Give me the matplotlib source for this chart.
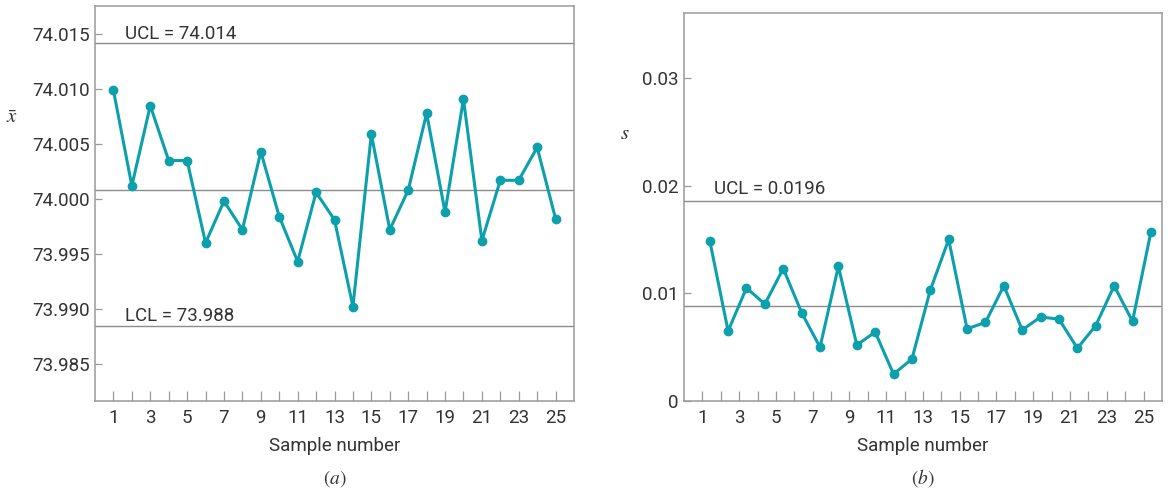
import matplotlib
matplotlib.use('Agg')
import matplotlib.pyplot as plt
import numpy as np

plt.rcParams['font.family'] = ['Roboto', 'DejaVu Sans']
plt.rcParams['mathtext.fontset'] = 'stix'

# sample numbers 1..25
samples = np.arange(1, 26)

# x-bar chart values
xbar = [74.0099, 74.0012, 74.0085, 74.0035, 74.0035, 73.9960, 73.9998, 73.9972,
        74.0043, 73.9984, 73.9943, 74.0006, 73.9981, 73.9902, 74.0059, 73.9972,
        74.0008, 74.0078, 73.9988, 74.0091, 73.9962, 74.0017, 74.0017, 74.0047,
        73.9982]
xbar_ucl, xbar_cl, xbar_lcl = 74.0142, 74.0008, 73.9884

# s chart values
s = [0.0149, 0.0065, 0.0105, 0.0090, 0.0123, 0.0082, 0.0050, 0.0125, 0.0052,
     0.0064, 0.0025, 0.0039, 0.0103, 0.0150, 0.0067, 0.0073, 0.0107, 0.0066,
     0.0078, 0.0076, 0.0049, 0.0070, 0.0107, 0.0074, 0.0157]
s_ucl, s_cl = 0.0186, 0.0088

xbar_ticks = [73.985, 73.990, 73.995, 74.000, 74.005, 74.010, 74.015]
s_ticks = [0, 0.01, 0.02, 0.03]
s_ticklabels = ['0', '0.01', '0.02', '0.03']

teal = '#0c9fac'
lgray = '#8c8c8c'
txt = '#333333'

fig = plt.figure(figsize=(11.7, 4.93), dpi=100)
ax1 = fig.add_axes([0.0812, 0.1866, 0.4094, 0.8018])
ax2 = fig.add_axes([0.5846, 0.1866, 0.4085, 0.7864])


def style(ax):
    for sp in ax.spines.values():
        sp.set_color('#9a9a9a')
        sp.set_linewidth(1.1)
    ax.set_xlim(0, 26)
    ax.set_xticks(samples)
    ax.set_xticklabels([str(n) if n % 2 == 1 else '' for n in samples])
    ax.tick_params(axis='x', direction='in', length=7.5, width=0.9, color='#9a9a9a',
                   labelsize=13.5, labelcolor=txt, pad=6)
    ax.tick_params(axis='y', direction='in', length=5, width=0.9, color='#9a9a9a',
                   labelsize=13.5, labelcolor=txt, pad=4)
    ax.set_xlabel('Sample number', fontsize=13.5, color=txt, labelpad=7)


# (a) x-bar chart
ax1.axhline(xbar_ucl, color=lgray, lw=1.0)
ax1.axhline(xbar_cl, color=lgray, lw=1.0)
ax1.axhline(xbar_lcl, color=lgray, lw=1.0)
ax1.plot(samples, xbar, color=teal, lw=2.2, marker='o', ms=6)
ax1.set_ylim(73.9816, 74.0176)
ax1.set_yticks(xbar_ticks)
ax1.set_yticklabels(['%.3f' % v for v in xbar_ticks])
style(ax1)
ax1.annotate('UCL = 74.014', xy=(1.62, xbar_ucl), xytext=(0, 3), textcoords='offset points',
             va='baseline', fontsize=13.5, color=txt)
ax1.annotate('LCL = 73.988', xy=(1.62, xbar_lcl), xytext=(0, 4), textcoords='offset points',
             va='baseline', fontsize=13.5, color=txt)
ax1.text(-0.173, 0.716, r'$\bar{x}$', transform=ax1.transAxes, fontsize=15,
         color=txt, ha='center', va='center')
ax1.text(0.5, -0.195, r'$(a)$', transform=ax1.transAxes, fontsize=14,
         color=txt, ha='center', va='center')

# (b) s chart
ax2.axhline(s_ucl, color=lgray, lw=1.0)
ax2.axhline(s_cl, color=lgray, lw=1.0)
ax2.plot(samples + 0.4, s, color=teal, lw=2.2, marker='o', ms=6)
ax2.set_ylim(0, 0.036)
ax2.set_yticks(s_ticks)
ax2.set_yticklabels(s_ticklabels)
style(ax2)
ax2.annotate('UCL = 0.0196', xy=(1.62, s_ucl), xytext=(0, 4.5), textcoords='offset points',
             va='baseline', fontsize=13.5, color=txt)
ax2.text(-0.123, 0.69, r'$s$', transform=ax2.transAxes, fontsize=15,
         color=txt, ha='center', va='center')
ax2.text(0.5, -0.199, r'$(b)$', transform=ax2.transAxes, fontsize=14,
         color=txt, ha='center', va='center')

fig.savefig('out.png', dpi=100)
